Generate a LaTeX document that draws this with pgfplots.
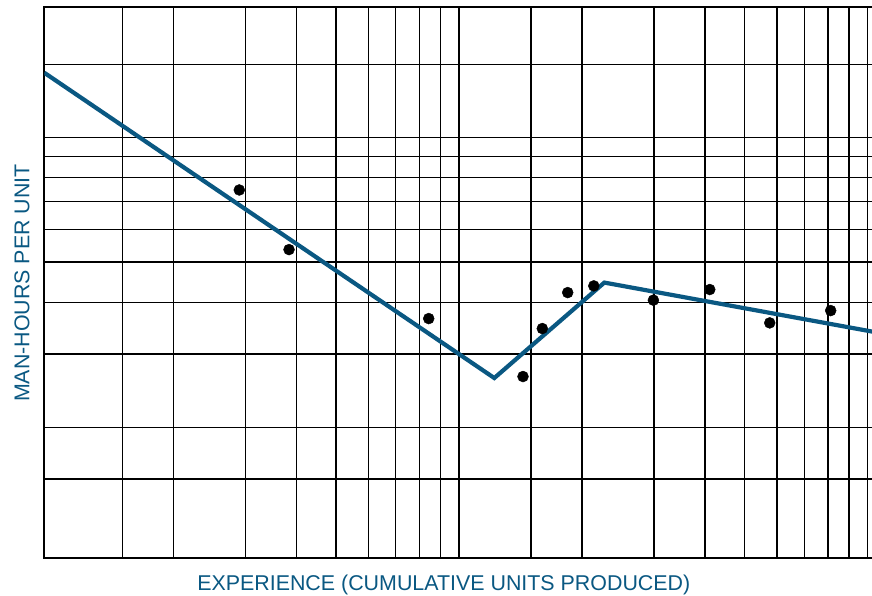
\documentclass[border=0pt]{standalone}
\usepackage{fontspec}
\setmainfont{Liberation Sans}
\usepackage{pgfplots}
\pgfplotsset{compat=1.18}
\definecolor{lcblue}{RGB}{10,88,130}
\begin{document}
\begin{tikzpicture}
\begin{axis}[
  xmode=log, ymode=log,
  scale only axis,
  width=832pt, height=551pt,
  xmin=0.9662, xmax=105,
  ymin=0.9656, ymax=20.58,
  xtick={1.5,2,3,4,5,6,7,8,9,10,15,20,30,40,50,60,70,80,90,100},
  ytick={1.5,2,3,4,5,6,7,8,9,10,15},
  minor xtick={}, minor ytick={},
  xticklabels={}, yticklabels={},
  major tick length=0pt,
  tick style={draw=none},
  grid=major,
  major grid style={black, line width=1.3pt},
  axis line style={black, line width=1.8pt},
]
\addplot[lcblue, line width=4.2pt] coordinates {
  (0.9662,14.31) (12.2,2.627) (22.68,4.463) (105,3.386)
};
\addplot[only marks, mark=*, mark size=5.5pt, black] coordinates {
  (2.899,7.464) (3.837,5.360) (8.43,3.655) (14.34,2.649) (15.99,3.458)
  (18.45,4.222) (21.37,4.382) (29.9,4.048) (41.08,4.294) (57.6,3.568) (81.2,3.821)
};
\end{axis}
\node[anchor=base, text=lcblue, font=\fontsize{21.4}{24}\selectfont, inner sep=0pt]
  at (399.5pt,-32pt) {EXPERIENCE (CUMULATIVE UNITS PRODUCED)};
\node[anchor=base, rotate=90, text=lcblue, font=\fontsize{21.4}{24}\selectfont, inner sep=0pt]
  at (-15pt,275.3pt) {MAN-HOURS PER UNIT};
\pgfresetboundingbox
\path[use as bounding box] (-44.3pt,-37.7pt) rectangle (827.7pt,558.3pt);
\end{tikzpicture}
\end{document}
